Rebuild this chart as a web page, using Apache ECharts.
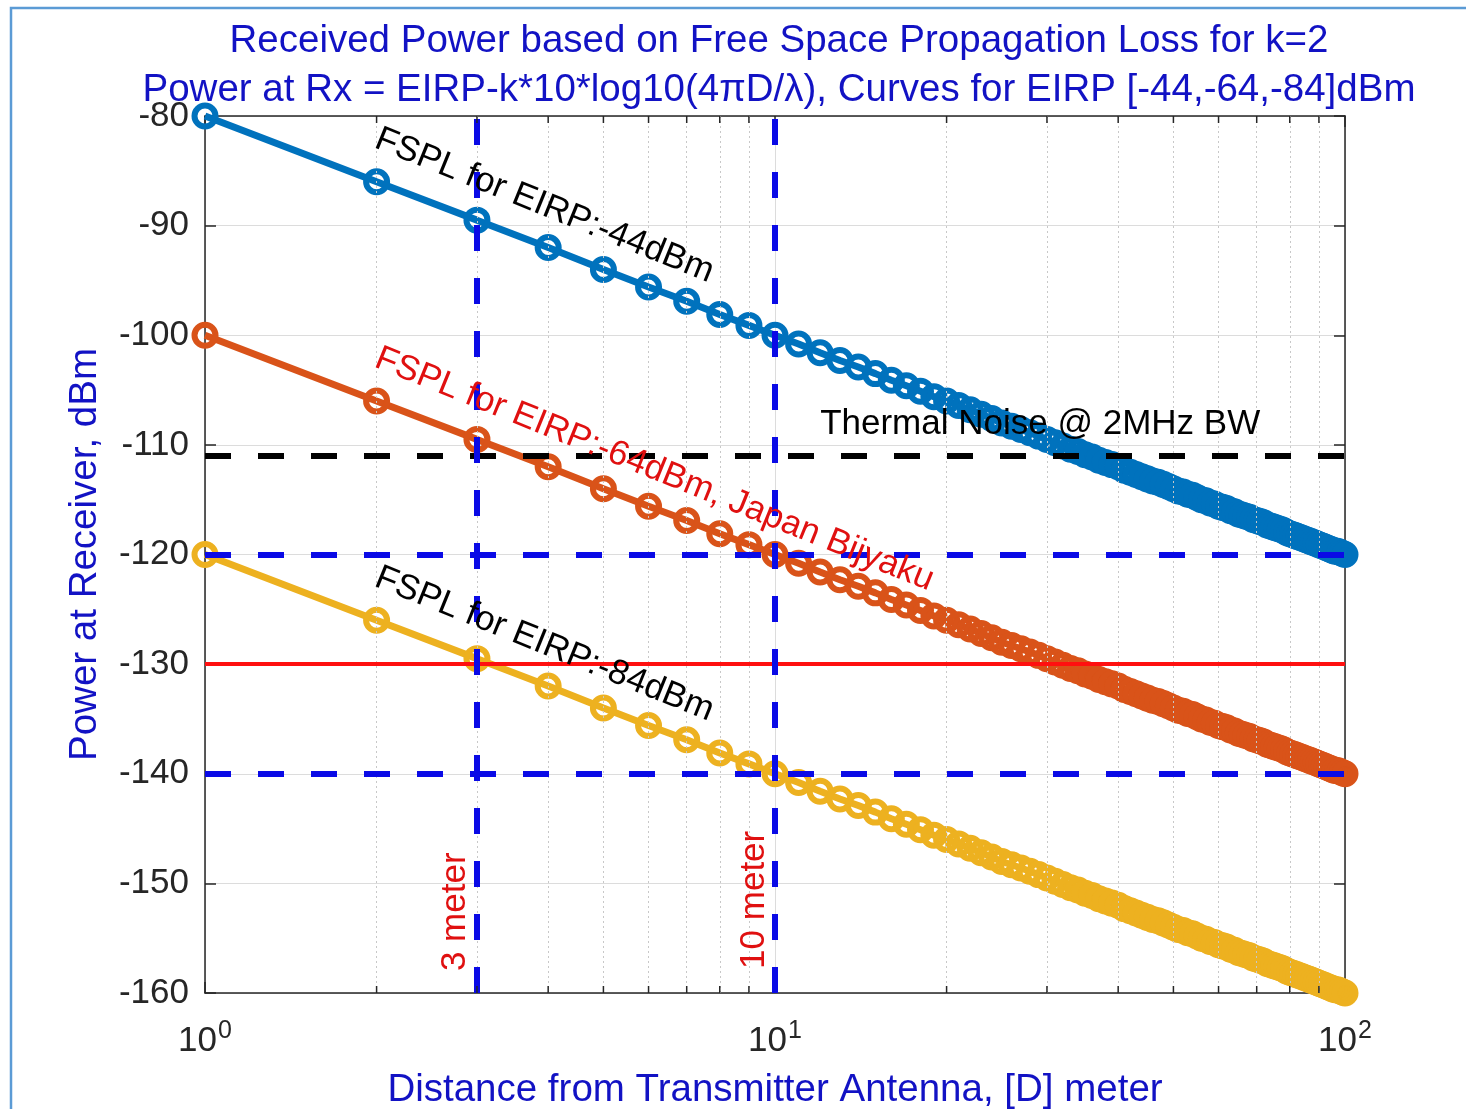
<!DOCTYPE html>
<html>
<head>
<meta charset="utf-8">
<title>Received Power vs Distance</title>
<script src="https://cdn.jsdelivr.net/npm/echarts@6/dist/echarts.min.js"></script>
<style>
  html, body { margin: 0; padding: 0; background: #fff; }
  #chart { width: 1466px; height: 1109px; }
</style>
</head>
<body>
<div id="chart"></div>
<script>
// distance in meters (one marker per meter)
const distance = [
  1, 2, 3, 4, 5, 6, 7, 8, 9, 10,
  11, 12, 13, 14, 15, 16, 17, 18, 19, 20,
  21, 22, 23, 24, 25, 26, 27, 28, 29, 30,
  31, 32, 33, 34, 35, 36, 37, 38, 39, 40,
  41, 42, 43, 44, 45, 46, 47, 48, 49, 50,
  51, 52, 53, 54, 55, 56, 57, 58, 59, 60,
  61, 62, 63, 64, 65, 66, 67, 68, 69, 70,
  71, 72, 73, 74, 75, 76, 77, 78, 79, 80,
  81, 82, 83, 84, 85, 86, 87, 88, 89, 90,
  91, 92, 93, 94, 95, 96, 97, 98, 99, 100
];

// received power (dBm) for EIRP -44 dBm
const rxEirp44 = [
  -80.0, -86.0, -89.5, -92.0, -94.0, -95.6, -96.9, -98.1, -99.1, -100.0,
  -100.8, -101.6, -102.3, -102.9, -103.5, -104.1, -104.6, -105.1, -105.6, -106.0,
  -106.4, -106.8, -107.2, -107.6, -108.0, -108.3, -108.6, -108.9, -109.2, -109.5,
  -109.8, -110.1, -110.4, -110.6, -110.9, -111.1, -111.4, -111.6, -111.8, -112.0,
  -112.3, -112.5, -112.7, -112.9, -113.1, -113.3, -113.4, -113.6, -113.8, -114.0,
  -114.2, -114.3, -114.5, -114.6, -114.8, -115.0, -115.1, -115.3, -115.4, -115.6,
  -115.7, -115.8, -116.0, -116.1, -116.3, -116.4, -116.5, -116.6, -116.8, -116.9,
  -117.0, -117.1, -117.3, -117.4, -117.5, -117.6, -117.7, -117.8, -118.0, -118.1,
  -118.2, -118.3, -118.4, -118.5, -118.6, -118.7, -118.8, -118.9, -119.0, -119.1,
  -119.2, -119.3, -119.4, -119.5, -119.6, -119.7, -119.7, -119.8, -119.9, -120.0
];

// received power (dBm) for EIRP -64 dBm
const rxEirp64 = [
  -100.0, -106.0, -109.5, -112.0, -114.0, -115.6, -116.9, -118.1, -119.1, -120.0,
  -120.8, -121.6, -122.3, -122.9, -123.5, -124.1, -124.6, -125.1, -125.6, -126.0,
  -126.4, -126.8, -127.2, -127.6, -128.0, -128.3, -128.6, -128.9, -129.2, -129.5,
  -129.8, -130.1, -130.4, -130.6, -130.9, -131.1, -131.4, -131.6, -131.8, -132.0,
  -132.3, -132.5, -132.7, -132.9, -133.1, -133.3, -133.4, -133.6, -133.8, -134.0,
  -134.2, -134.3, -134.5, -134.6, -134.8, -135.0, -135.1, -135.3, -135.4, -135.6,
  -135.7, -135.8, -136.0, -136.1, -136.3, -136.4, -136.5, -136.6, -136.8, -136.9,
  -137.0, -137.1, -137.3, -137.4, -137.5, -137.6, -137.7, -137.8, -138.0, -138.1,
  -138.2, -138.3, -138.4, -138.5, -138.6, -138.7, -138.8, -138.9, -139.0, -139.1,
  -139.2, -139.3, -139.4, -139.5, -139.6, -139.7, -139.7, -139.8, -139.9, -140.0
];

// received power (dBm) for EIRP -84 dBm
const rxEirp84 = [
  -120.0, -126.0, -129.5, -132.0, -134.0, -135.6, -136.9, -138.1, -139.1, -140.0,
  -140.8, -141.6, -142.3, -142.9, -143.5, -144.1, -144.6, -145.1, -145.6, -146.0,
  -146.4, -146.8, -147.2, -147.6, -148.0, -148.3, -148.6, -148.9, -149.2, -149.5,
  -149.8, -150.1, -150.4, -150.6, -150.9, -151.1, -151.4, -151.6, -151.8, -152.0,
  -152.3, -152.5, -152.7, -152.9, -153.1, -153.3, -153.4, -153.6, -153.8, -154.0,
  -154.2, -154.3, -154.5, -154.6, -154.8, -155.0, -155.1, -155.3, -155.4, -155.6,
  -155.7, -155.8, -156.0, -156.1, -156.3, -156.4, -156.5, -156.6, -156.8, -156.9,
  -157.0, -157.1, -157.3, -157.4, -157.5, -157.6, -157.7, -157.8, -158.0, -158.1,
  -158.2, -158.3, -158.4, -158.5, -158.6, -158.7, -158.8, -158.9, -159.0, -159.1,
  -159.2, -159.3, -159.4, -159.5, -159.6, -159.7, -159.7, -159.8, -159.9, -160.0
];

// axes
const yTicks = [-160, -150, -140, -130, -120, -110, -100, -90, -80];
const xDecades = [1, 10, 100];
const xMinorTicks = [2, 3, 4, 5, 6, 7, 8, 9, 20, 30, 40, 50, 60, 70, 80, 90];

// reference levels
const noiseFloor = -111;      // thermal noise @ 2MHz BW
const bijyakuLimit = -130;    // red solid line
const guideLevels = [-120, -140];
const guideDistances = [3, 10];

const FONT = 'Liberation Sans, Arial, Helvetica, sans-serif';
const BLUE_TXT = '#1212c4';
const AX = '#262626';

const chart = echarts.init(document.getElementById('chart'));

const yMin = yTicks[0], yMax = yTicks[yTicks.length - 1];
const xMin = xDecades[0], xMax = xDecades[xDecades.length - 1];

function curve(name, values, color) {
  return {
    name: name,
    type: 'line',
    data: distance.map((d, i) => [d, values[i]]),
    symbol: 'circle',
    symbolSize: 21,
    clip: false,
    z: 3,
    lineStyle: { color: color, width: 7 },
    itemStyle: { color: 'rgba(0,0,0,0)', borderColor: color, borderWidth: 6 },
    emphasis: { disabled: true }
  };
}

const dash = [26, 27];
function hLine(y, color, type, width) {
  return [
    { coord: [xMin, y], lineStyle: { color: color, type: type, width: width } },
    { coord: [xMax, y] }
  ];
}
function vLine(x, color, type, width) {
  return [
    { coord: [x, yMin], lineStyle: { color: color, type: type, width: width } },
    { coord: [x, yMax] }
  ];
}

const option = {
  animation: false,
  backgroundColor: '#fff',
  title: {
    text: 'Received Power based on Free Space Propagation Loss for k=2\nPower at Rx = EIRP-k*10*log10(4πD/λ), Curves for EIRP [-44,-64,-84]dBm',
    left: 774,
    top: 12,
    textAlign: 'center',
    textStyle: {
      fontFamily: FONT, fontSize: 38.5, fontWeight: 'normal',
      color: BLUE_TXT, lineHeight: 49
    }
  },
  grid: {
    left: 205, right: 121, top: 116, bottom: 116,
    containLabel: false, outerBoundsMode: 'none'
  },
  xAxis: [
    {
      type: 'log', logBase: 10, min: xMin, max: xMax,
      name: 'Distance from Transmitter Antenna, [D] meter',
      nameLocation: 'middle', nameGap: 78,
      nameTextStyle: { fontFamily: FONT, fontSize: 38.5, color: BLUE_TXT },
      axisLine: { show: true, onZero: false, lineStyle: { color: AX, width: 1.5 } },
      axisTick: { show: true, inside: true, length: 11, lineStyle: { color: AX, width: 1.5 } },
      axisLabel: {
        margin: 26,
        formatter: v => '10{sup|' + Math.round(Math.log10(v)) + '}',
        fontFamily: FONT, fontSize: 35, color: AX,
        rich: { sup: { fontFamily: FONT, fontSize: 25, color: AX, verticalAlign: 'top', padding: [0, 0, 20, 1] } }
      },
      splitLine: { show: true, lineStyle: { color: '#dcdcdc', width: 1 } }
    },
    {
      type: 'log', logBase: 10, min: xMin, max: xMax, position: 'top',
      axisLine: { show: true, onZero: false, lineStyle: { color: AX, width: 1.5 } },
      axisTick: { show: true, inside: true, length: 11, lineStyle: { color: AX, width: 1.5 } },
      axisLabel: { show: false },
      splitLine: { show: false }
    }
  ],
  yAxis: [
    {
      type: 'value', min: yMin, max: yMax, interval: 10,
      name: 'Power at Receiver, dBm',
      nameLocation: 'middle', nameGap: 100,
      nameTextStyle: { fontFamily: FONT, fontSize: 38.5, color: BLUE_TXT },
      axisLine: { show: true, onZero: false, lineStyle: { color: AX, width: 1.5 } },
      axisTick: { show: true, inside: true, length: 11, lineStyle: { color: AX, width: 1.5 } },
      axisLabel: { margin: 16, fontFamily: FONT, fontSize: 35, color: AX },
      splitLine: { show: true, lineStyle: { color: '#dcdcdc', width: 1 } }
    },
    {
      type: 'value', min: yMin, max: yMax, interval: 10, position: 'right',
      axisLine: { show: true, onZero: false, lineStyle: { color: AX, width: 1.5 } },
      axisTick: { show: true, inside: true, length: 11, lineStyle: { color: AX, width: 1.5 } },
      axisLabel: { show: false },
      splitLine: { show: false }
    }
  ],
  series: [
    {
      // minor log grid (dotted)
      type: 'line', data: [], z: 1, silent: true,
      markLine: {
        silent: true, symbol: 'none', label: { show: false }, animation: false,
        lineStyle: { color: '#c8c8c8', type: [2, 3], width: 1 },
        data: xMinorTicks.map(v => [{ coord: [v, yMin] }, { coord: [v, yMax] }])
      }
    },
    curve('EIRP -44dBm', rxEirp44, '#0072BD'),
    curve('EIRP -64dBm', rxEirp64, '#D95319'),
    curve('EIRP -84dBm', rxEirp84, '#EDB120'),
    {
      // reference lines
      type: 'line', data: [], z: 5, silent: true,
      markLine: {
        silent: true, symbol: 'none', label: { show: false }, animation: false,
        data: [
          hLine(noiseFloor, '#000000', dash, 6),
          hLine(bijyakuLimit, '#ff1010', 'solid', 4),
          ...guideLevels.map(y => hLine(y, '#0a0ae6', dash, 6)),
          ...guideDistances.map(x => vLine(x, '#0a0ae6', dash, 6))
        ]
      }
    }
  ]
};

chart.setOption(option);

// annotations placed in data coordinates
const annotations = [
  { text: 'FSPL for EIRP:-44dBm', at: [2, -82], angle: -22, color: '#000000' },
  { text: 'FSPL for EIRP:-64dBm, Japan Bijyaku', at: [2, -102], angle: -22, color: '#e01010' },
  { text: 'FSPL for EIRP:-84dBm', at: [2, -122], angle: -22, color: '#000000' },
  { text: 'Thermal Noise @ 2MHz BW', at: [12, -108.1], angle: 0, color: '#000000' },
  { text: '3 meter', at: [2.75, -158], angle: 90, color: '#e01010' },
  { text: '10 meter', at: [9.2, -157.8], angle: 90, color: '#e01010' }
];

const toPx = p => chart.convertToPixel({ xAxisIndex: 0, yAxisIndex: 0 }, p);
const graphics = [];

// light blue frame around the figure
graphics.push({
  type: 'rect', silent: true, z: 0,
  shape: { x: 11, y: 8, width: 1480, height: 1130 },
  style: { fill: 'none', stroke: '#5b9bd5', lineWidth: 2.5 }
});

// minor ticks of the log axis (bottom and top)
xMinorTicks.forEach(v => {
  const b = toPx([v, yMin]);
  const t = toPx([v, yMax]);
  graphics.push({ type: 'line', silent: true, z: 10, shape: { x1: b[0], y1: b[1], x2: b[0], y2: b[1] - 7 }, style: { stroke: AX, lineWidth: 1.5 } });
  graphics.push({ type: 'line', silent: true, z: 10, shape: { x1: t[0], y1: t[1], x2: t[0], y2: t[1] + 7 }, style: { stroke: AX, lineWidth: 1.5 } });
});

annotations.forEach(a => {
  const p = toPx(a.at);
  graphics.push({
    type: 'text', silent: true, z: 20,
    x: p[0], y: p[1],
    rotation: a.angle * Math.PI / 180,
    style: {
      text: a.text, fill: a.color,
      font: '35px ' + FONT,
      align: 'left', verticalAlign: 'middle'
    }
  });
});

chart.setOption({ graphic: graphics });
</script>
</body>
</html>
